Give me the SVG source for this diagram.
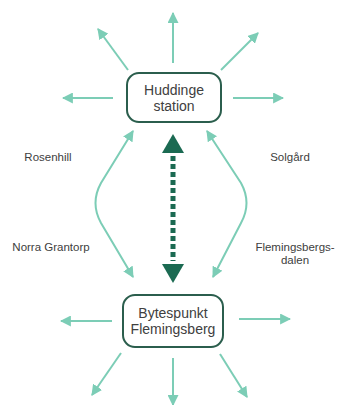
<svg xmlns="http://www.w3.org/2000/svg" width="337" height="405" viewBox="0 0 337 405">
<style>
.lt{fill:none;stroke:#7ccdb6;stroke-width:2}
.box{fill:#fff;stroke:#2b5e4d;stroke-width:2}
.nt{font-family:"Liberation Sans",Arial,sans-serif;font-size:14px;fill:#404040;text-anchor:middle}
.lb{font-family:"Liberation Sans",Arial,sans-serif;font-size:11.5px;fill:#404040;text-anchor:middle}
</style>
<defs>
<marker id="ah" viewBox="0 0 10 10" refX="9" refY="5" markerWidth="11" markerHeight="11" markerUnits="userSpaceOnUse" orient="auto-start-reverse">
<path d="M0,0 L10,5 L0,10 Z" fill="#7ccdb6"/>
</marker>
</defs>
<rect width="337" height="405" fill="#fff"/>
<g id="connectors">
<line class="lt" x1="173" y1="63" x2="173" y2="13" marker-end="url(#ah)"/>
<line class="lt" x1="128" y1="70" x2="98" y2="29" marker-end="url(#ah)"/>
<line class="lt" x1="221" y1="70" x2="258" y2="33" marker-end="url(#ah)"/>
<line class="lt" x1="113" y1="98" x2="63" y2="98" marker-end="url(#ah)"/>
<line class="lt" x1="233" y1="98" x2="283" y2="98" marker-end="url(#ah)"/>
<path class="lt" d="M133,131 L101,183 Q90,203 101,223 L133,277" marker-start="url(#ah)" marker-end="url(#ah)"/>
<path class="lt" d="M207,131 L241,183 Q252,203 241,223 L213,277" marker-start="url(#ah)" marker-end="url(#ah)"/>
<line x1="173" y1="156" x2="173" y2="261" stroke="#1b6a52" stroke-width="5" stroke-dasharray="5 3"/>
<path d="M173,134 L184,153 L162,153 Z" fill="#1b6a52"/>
<path d="M173,283 L184,264 L162,264 Z" fill="#1b6a52"/>
<line class="lt" x1="112" y1="321" x2="61" y2="321" marker-end="url(#ah)"/>
<line class="lt" x1="239" y1="319" x2="290" y2="319" marker-end="url(#ah)"/>
<line class="lt" x1="121" y1="353" x2="92" y2="395" marker-end="url(#ah)"/>
<line class="lt" x1="173" y1="358" x2="173" y2="405" marker-end="url(#ah)"/>
<line class="lt" x1="220" y1="354" x2="247" y2="397" marker-end="url(#ah)"/>
</g>
<g id="huddinge">
<rect class="box" x="127" y="73" width="94" height="49" rx="12"/>
<text class="nt" x="174" y="95">Huddinge</text>
<text class="nt" x="174" y="111">station</text>
</g>
<g id="flemingsberg">
<rect class="box" x="123" y="295" width="100" height="52" rx="12"/>
<text class="nt" x="173" y="318">Bytespunkt</text>
<text class="nt" x="173" y="334">Flemingsberg</text>
</g>
<g id="labels">
<text class="lb" x="48" y="161">Rosenhill</text>
<text class="lb" x="290" y="161">Solgård</text>
<text class="lb" x="51" y="251">Norra Grantorp</text>
<text class="lb" x="295" y="251">Flemingsbergs-</text>
<text class="lb" x="295" y="264">dalen</text>
</g>
</svg>
